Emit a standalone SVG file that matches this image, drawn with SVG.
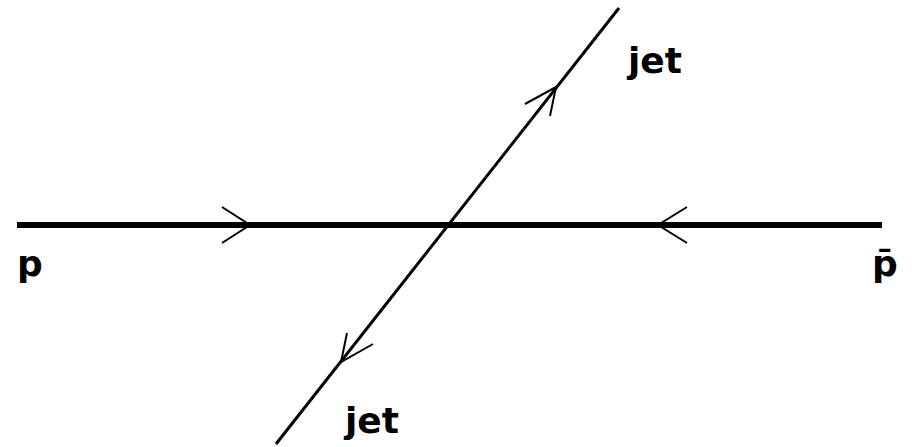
<svg xmlns="http://www.w3.org/2000/svg" width="916" height="447" viewBox="0 0 916 447">
<style>
.lbl{font-family:"DejaVu Sans",sans-serif;font-weight:bold;font-size:36px;fill:#000}
.arm{fill:none;stroke:#000;stroke-width:2}
</style>
<rect width="916" height="447" fill="#fff"/>
<g id="connectors">
<line id="beam" x1="17" y1="225" x2="882" y2="225" stroke="#000" stroke-width="6"/>
<line id="jetline" x1="619" y1="8" x2="276" y2="444" stroke="#000" stroke-width="3"/>
<polyline class="arm" stroke-width="1.6" points="222,207 250,225 222,243"/>
<polyline class="arm" stroke-width="1.6" points="687,207 658,225 687,243"/>
<polyline class="arm" stroke-width="3" points="525,104 556,87 550,116"/>
<polyline class="arm" stroke-width="3" points="347,333 341,362 373,344"/>
</g>
<g id="p"><text class="lbl" x="17" y="276">p</text></g>
<g id="pbar"><text class="lbl" x="872" y="276">p̄</text></g>
<g id="jet-top"><text class="lbl" x="628" y="73">jet</text></g>
<g id="jet-bottom"><text class="lbl" x="345" y="433">jet</text></g>
</svg>
